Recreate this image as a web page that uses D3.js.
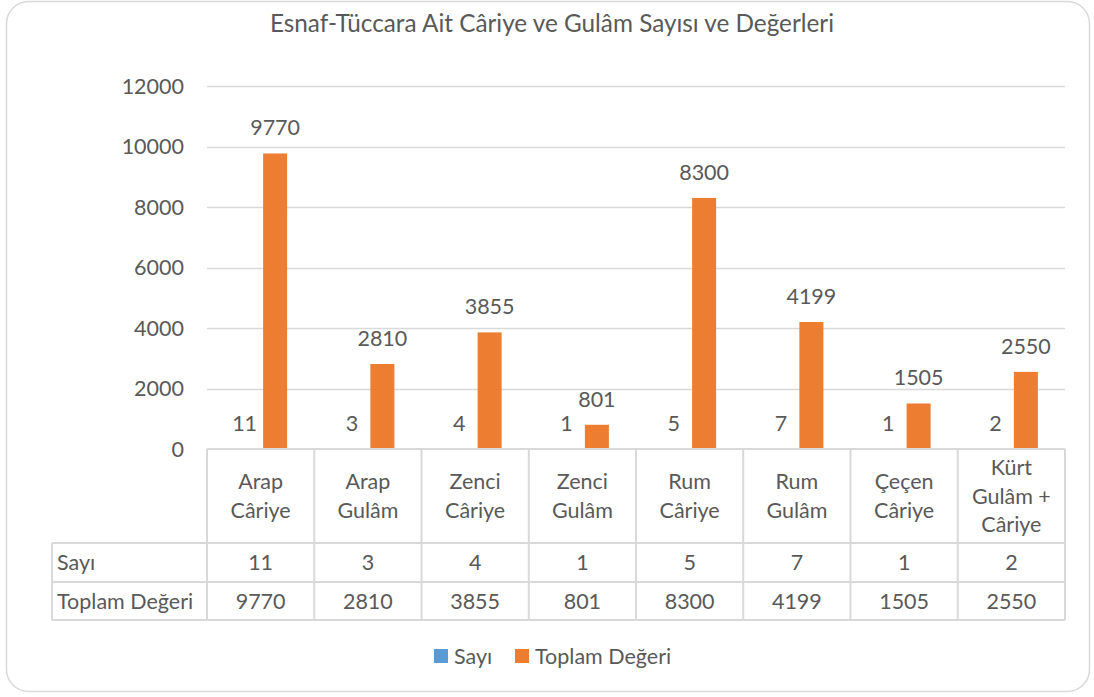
<!DOCTYPE html>
<html>
<head>
<meta charset="utf-8">
<script src="https://cdn.jsdelivr.net/npm/d3@7"></script>
<style>
  body { margin: 0; background: #fff; }
  text { font-family: Lato, "Open Sans", sans-serif; fill: #595959; }
</style>
</head>
<body>
<div id="chart"></div>
<script>
// veriler
const kategoriler = [
  ["Arap", "Câriye"], ["Arap", "Gulâm"], ["Zenci", "Câriye"], ["Zenci", "Gulâm"],
  ["Rum", "Câriye"], ["Rum", "Gulâm"], ["Çeçen", "Câriye"], ["Kürt", "Gulâm +", "Câriye"]
];
const sayi = [11, 3, 4, 1, 5, 7, 1, 2];
const toplamDegeri = [9770, 2810, 3855, 801, 8300, 4199, 1505, 2550];
const seriler = ["Sayı", "Toplam Değeri"];
const renkler = ["#5B9BD5", "#ED7D31"];
const yTicks = [0, 2000, 4000, 6000, 8000, 10000, 12000];

const width = 1094, height = 697;
const plotLeft = 207, plotRight = 1065, plotTop = 86, plotBottom = 449;
const tableLeft = 52;
const fs = 21.5; // yazı boyutu

const svg = d3.select("#chart").append("svg")
  .attr("width", width).attr("height", height);

// çerçeve
svg.append("rect")
  .attr("x", 6.5).attr("y", 1.5).attr("width", 1083).attr("height", 690)
  .attr("rx", 22).attr("fill", "#fff").attr("stroke", "#d9d9d9").attr("stroke-width", 1.5);

svg.append("text")
  .attr("x", 552).attr("y", 32).attr("text-anchor", "middle")
  .attr("font-size", 24.3).text("Esnaf-Tüccara Ait Câriye ve Gulâm Sayısı ve Değerleri");

const x = d3.scaleBand().domain(d3.range(kategoriler.length)).range([plotLeft, plotRight]);
const xi = d3.scaleBand().domain([0, 1]).range([0, x.bandwidth()]).paddingInner(0.172).paddingOuter(0.935);
const y = d3.scaleLinear().domain([0, 12000]).range([plotBottom, plotTop]);

// ızgara
svg.append("g").selectAll("line").data(yTicks.slice(1)).join("line")
  .attr("x1", plotLeft).attr("x2", plotRight)
  .attr("y1", d => Math.round(y(d)) + 0.5).attr("y2", d => Math.round(y(d)) + 0.5)
  .attr("stroke", "#d9d9d9").attr("stroke-width", 1.3);

svg.append("g").selectAll("text").data(yTicks).join("text")
  .attr("x", 184).attr("y", d => y(d) + 7.5).attr("text-anchor", "end")
  .attr("font-size", fs).text(d => d);

// barlar
const veriler = [sayi, toplamDegeri];
veriler.forEach((seri, s) => {
  svg.append("g").selectAll("rect").data(seri).join("rect")
    .attr("x", (d, i) => x(i) + xi(s))
    .attr("width", xi.bandwidth())
    .attr("y", d => y(d))
    .attr("height", d => plotBottom - y(d))
    .attr("fill", renkler[s]);
  svg.append("g").selectAll("text").data(seri).join("text")
    .attr("x", (d, i) => x(i) + xi(s) + xi.bandwidth() / 2 - (s === 0 ? 1.5 : 0))
    .attr("y", d => y(d) - 18)
    .attr("text-anchor", "middle").attr("font-size", fs)
    .text(d => d);
});

// veri tablosu
const row1 = plotBottom, row2 = 543, row3 = 582, row4 = 620;
const grid = svg.append("g").attr("stroke", "#d9d9d9").attr("stroke-width", 2);
[row2, row3, row4].forEach(r => grid.append("line").attr("x1", tableLeft).attr("x2", plotRight).attr("y1", r).attr("y2", r));
grid.append("line").attr("x1", plotLeft).attr("x2", plotRight).attr("y1", row1).attr("y2", row1);
d3.range(kategoriler.length + 1).forEach(i => {
  const xx = i < kategoriler.length ? x(i) : plotRight;
  grid.append("line").attr("x1", xx).attr("x2", xx).attr("y1", row1).attr("y2", row4);
});
grid.append("line").attr("x1", tableLeft).attr("x2", tableLeft).attr("y1", row2).attr("y2", row4);

const lab = svg.append("g").selectAll("text").data(kategoriler).join("text")
  .attr("text-anchor", "middle").attr("font-size", fs);
lab.each(function(d, i) {
  const t = d3.select(this);
  const cx = x(i) + x.bandwidth() / 2;
  const start = d.length === 3 ? 475 : 489;
  d.forEach((w, k) => t.append("tspan").attr("x", cx).attr("y", start + k * 28.5).text(w));
});

[sayi, toplamDegeri].forEach((seri, s) => {
  const yy = s === 0 ? 570 : 609;
  svg.append("text").attr("x", tableLeft + 5).attr("y", yy).attr("font-size", fs).text(seriler[s]);
  svg.append("g").selectAll("text").data(seri).join("text")
    .attr("x", (d, i) => x(i) + x.bandwidth() / 2).attr("y", yy)
    .attr("text-anchor", "middle").attr("font-size", fs).text(d => d);
});

// lejant
const lg = svg.append("g");
[[434, 0], [515, 1]].forEach(([lx, s]) => {
  lg.append("rect").attr("x", lx).attr("y", 649).attr("width", 14).attr("height", 14).attr("fill", renkler[s]);
  lg.append("text").attr("x", lx + 20).attr("y", 664).attr("font-size", fs).text(seriler[s]);
});
</script>
</body>
</html>
